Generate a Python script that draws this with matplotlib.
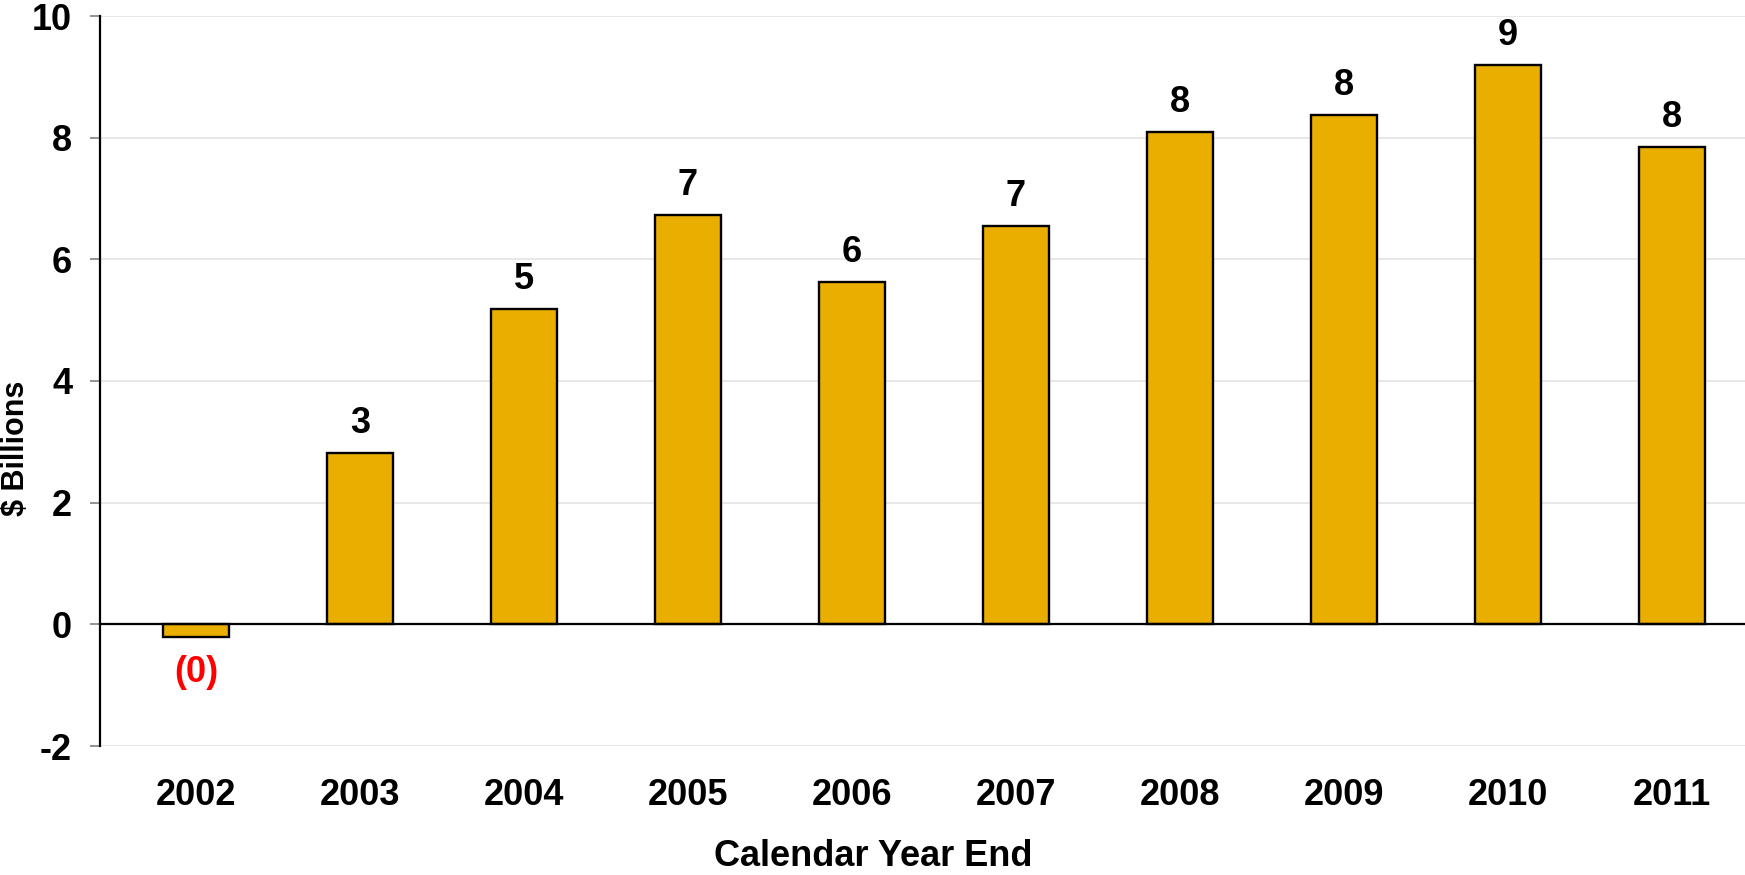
import matplotlib
matplotlib.use("Agg")
import matplotlib.pyplot as plt

# Annual results, $ billions
years = ["2002", "2003", "2004", "2005", "2006", "2007", "2008", "2009", "2010", "2011"]
values = [-0.21, 2.82, 5.18, 6.73, 5.63, 6.54, 8.09, 8.37, 9.19, 7.84]
labels = ["(0)", "3", "5", "7", "6", "7", "8", "8", "9", "8"]
y_ticks = [-2, 0, 2, 4, 6, 8, 10]

BAR_COLOR = "#EAAE00"
FONT = ["Liberation Sans", "DejaVu Sans"]

plt.rcParams["font.family"] = FONT
plt.rcParams["font.weight"] = "bold"

fig = plt.figure(figsize=(17.45, 8.75), dpi=100)
W, H = 1745, 875
ax = fig.add_axes([100 / W, (H - 746) / H, (W - 100) / W, (746 - 16) / H])

x = list(range(len(years)))
ax.bar(x, values, width=0.4, color=BAR_COLOR, edgecolor="black", linewidth=1.7, zorder=3)

ax.set_xlim(-0.585, 9.445)
ax.set_ylim(-2, 10)
ax.set_yticks(y_ticks)
ax.set_yticklabels([str(t) for t in y_ticks])
ax.set_xticks(x)
ax.set_xticklabels(years)

ax.tick_params(axis="y", labelsize=26, length=7, width=1.2, color="#808080", pad=13)
ax.tick_params(axis="x", labelsize=26, length=0, pad=23)

# light horizontal grid and zero baseline
for t in y_ticks:
    ax.axhline(t, color="#e4e4e4", linewidth=1.2, zorder=0)
ax.axhline(0, color="black", linewidth=1.6, zorder=4)

for side in ("top", "right", "bottom"):
    ax.spines[side].set_visible(False)
ax.spines["left"].set_color("black")
ax.spines["left"].set_linewidth(1.6)
ax.spines["left"].set_zorder(5)

for xi, v, lab in zip(x, values, labels):
    if v >= 0:
        ax.annotate(lab, (xi, v), xytext=(0, 14.5), textcoords="offset points",
                    ha="center", va="baseline", fontsize=26, fontweight="bold",
                    color="black")
    else:
        ax.annotate(lab, (xi, v), xytext=(0, -13), textcoords="offset points",
                    ha="center", va="top", fontsize=26, fontweight="bold",
                    color="#FF0000")

# axis titles placed in figure pixel space
fig.text(16 / W, 1 - 448 / H, "$ Billions", rotation=90, ha="center", va="center",
         fontsize=22, fontweight="bold")
fig.text(873 / W, 1 - 857 / H, "Calendar Year End", ha="center", va="center",
         fontsize=26, fontweight="bold")

fig.savefig("out.png", dpi=100)
